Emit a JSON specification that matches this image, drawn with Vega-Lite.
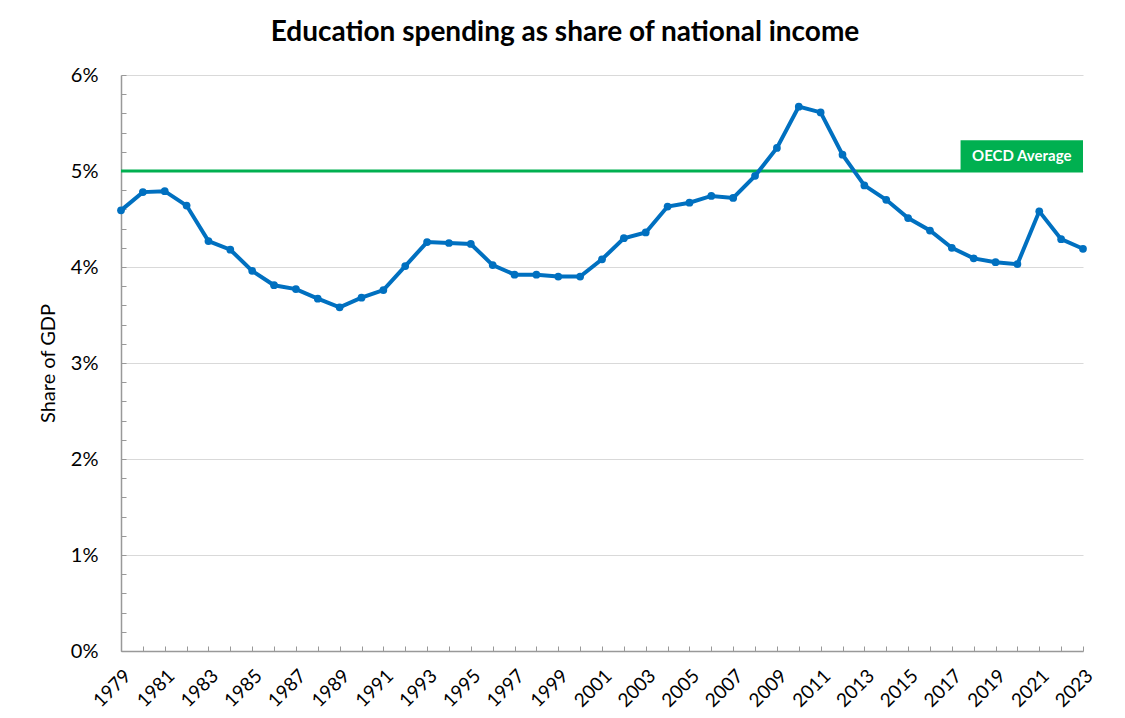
{
  "$schema": "https://vega.github.io/schema/vega-lite/v6.json",
  "width": 962,
  "height": 576,
  "autosize": {"type": "none"},
  "padding": {"left": 121, "top": 75, "right": 42, "bottom": 67},
  "background": "white",
  "title": {
    "text": "Education spending as share of national income",
    "font": "Lato",
    "fontSize": 28,
    "fontWeight": "bold",
    "color": "#000000",
    "anchor": "middle",
    "frame": "group",
    "dx": -37,
    "offset": 18
  },
  "config": {
    "view": {"stroke": null},
    "font": "Lato"
  },
  "datasets": {
    "spend": [
      {"year": 1979, "share": 4.59},
      {"year": 1980, "share": 4.78},
      {"year": 1981, "share": 4.79},
      {"year": 1982, "share": 4.64},
      {"year": 1983, "share": 4.27},
      {"year": 1984, "share": 4.18},
      {"year": 1985, "share": 3.96},
      {"year": 1986, "share": 3.81},
      {"year": 1987, "share": 3.77},
      {"year": 1988, "share": 3.67},
      {"year": 1989, "share": 3.58},
      {"year": 1990, "share": 3.68},
      {"year": 1991, "share": 3.76},
      {"year": 1992, "share": 4.01},
      {"year": 1993, "share": 4.26},
      {"year": 1994, "share": 4.25},
      {"year": 1995, "share": 4.24},
      {"year": 1996, "share": 4.02},
      {"year": 1997, "share": 3.92},
      {"year": 1998, "share": 3.92},
      {"year": 1999, "share": 3.90},
      {"year": 2000, "share": 3.90},
      {"year": 2001, "share": 4.08},
      {"year": 2002, "share": 4.30},
      {"year": 2003, "share": 4.36},
      {"year": 2004, "share": 4.63},
      {"year": 2005, "share": 4.67},
      {"year": 2006, "share": 4.74},
      {"year": 2007, "share": 4.72},
      {"year": 2008, "share": 4.95},
      {"year": 2009, "share": 5.24},
      {"year": 2010, "share": 5.67},
      {"year": 2011, "share": 5.61},
      {"year": 2012, "share": 5.17},
      {"year": 2013, "share": 4.85},
      {"year": 2014, "share": 4.70},
      {"year": 2015, "share": 4.51},
      {"year": 2016, "share": 4.38},
      {"year": 2017, "share": 4.20},
      {"year": 2018, "share": 4.09},
      {"year": 2019, "share": 4.05},
      {"year": 2020, "share": 4.03},
      {"year": 2021, "share": 4.58},
      {"year": 2022, "share": 4.29},
      {"year": 2023, "share": 4.19}
    ],
    "oecd": [
      {"avg": 5.0, "x1": 2017.4, "x2": 2023, "y1": 5.0, "y2": 5.32, "xm": 2020.2, "ym": 5.16, "label": "OECD Average"}
    ]
  },
  "encoding": {
    "x": {
      "type": "quantitative",
      "scale": {"domain": [1979, 2023], "nice": false, "zero": false}
    },
    "y": {
      "type": "quantitative",
      "scale": {"domain": [0, 6], "nice": false}
    }
  },
  "layer": [
    {
      "data": {"name": "oecd"},
      "mark": {"type": "rule", "color": "#00B050", "strokeWidth": 3},
      "encoding": {
        "y": {
          "field": "avg",
          "type": "quantitative",
          "scale": {"domain": [0, 6], "nice": false},
          "axis": {
            "title": "Share of GDP",
            "titleFont": "Lato",
            "titleFontSize": 20,
            "titleFontWeight": "normal",
            "titleColor": "#000000",
            "titlePadding": 12,
            "values": [0, 0.2, 0.4, 0.6, 0.8, 1, 1.2, 1.4, 1.6, 1.8, 2, 2.2, 2.4, 2.6, 2.8, 3, 3.2, 3.4, 3.6, 3.8, 4, 4.2, 4.4, 4.6, 4.8, 5, 5.2, 5.4, 5.6, 5.8, 6],
            "tickCount": 100,
            "labelExpr": "abs(datum.value - round(datum.value)) < 0.001 ? round(datum.value) + '%' : ''",
            "labelFont": "Lato",
            "labelFontSize": 20,
            "labelColor": "#000000",
            "labelPadding": 28,
            "tickSize": -5,
            "tickColor": "#999999",
            "domainColor": "#999999",
            "domainWidth": 1.5,
            "grid": true,
            "gridColor": "#d9d9d9",
            "gridOpacity": {"condition": {"test": "abs(datum.value - round(datum.value)) < 0.001", "value": 1}, "value": 0},
            "labelOverlap": false
          }
        }
      }
    },
    {
      "data": {"name": "oecd"},
      "mark": {"type": "rect", "color": "#00B050"},
      "encoding": {
        "x": {"field": "x1", "type": "quantitative"},
        "x2": {"field": "x2"},
        "y": {"field": "y1", "type": "quantitative"},
        "y2": {"field": "y2"}
      }
    },
    {
      "data": {"name": "oecd"},
      "mark": {"type": "text", "color": "#ffffff", "font": "Lato", "fontSize": 15, "fontWeight": "bold", "align": "center", "baseline": "middle"},
      "encoding": {
        "x": {"field": "xm", "type": "quantitative"},
        "y": {"field": "ym", "type": "quantitative"},
        "text": {"field": "label"}
      }
    },
    {
      "data": {"name": "spend"},
      "mark": {"type": "line", "color": "#0070C0", "strokeWidth": 4, "point": {"filled": true, "size": 60, "color": "#0070C0"}},
      "encoding": {
        "x": {
          "field": "year",
          "type": "quantitative",
          "axis": {
            "title": null,
            "values": [1979, 1980, 1981, 1982, 1983, 1984, 1985, 1986, 1987, 1988, 1989, 1990, 1991, 1992, 1993, 1994, 1995, 1996, 1997, 1998, 1999, 2000, 2001, 2002, 2003, 2004, 2005, 2006, 2007, 2008, 2009, 2010, 2011, 2012, 2013, 2014, 2015, 2016, 2017, 2018, 2019, 2020, 2021, 2022, 2023],
            "tickCount": 100,
            "labelExpr": "datum.value % 2 == 1 ? format(datum.value, 'd') : ''",
            "labelAngle": -45,
            "labelFont": "Lato",
            "labelFontSize": 19,
            "labelColor": "#000000",
            "labelPadding": 20,
            "labelOverlap": false,
            "labelBound": false,
            "labelFlush": false,
            "tickSize": -5,
            "tickColor": "#999999",
            "domainColor": "#999999",
            "domainWidth": 1.5,
            "grid": false
          }
        },
        "y": {"field": "share", "type": "quantitative"}
      }
    }
  ]
}
